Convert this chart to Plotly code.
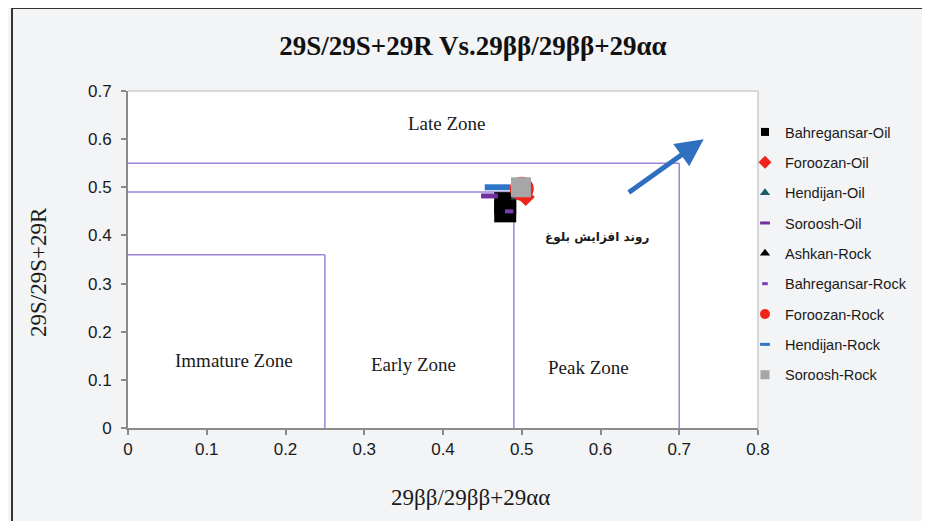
import plotly.graph_objects as go

# ---- data ----
series_names = ["Bahregansar-Oil", "Foroozan-Oil", "Hendijan-Oil", "Soroosh-Oil",
                "Ashkan-Rock", "Bahregansar-Rock", "Foroozan-Rock", "Hendijan-Rock", "Soroosh-Rock"]
bahregansar_oil_x = [0.479, 0.479]
bahregansar_oil_y = [0.467, 0.450]
foroozan_oil_x = [0.505]
foroozan_oil_y = [0.480]
hendijan_oil_x = [0.496]
hendijan_oil_y = [0.482]
soroosh_oil_x = [0.459]
soroosh_oil_y = [0.482]
ashkan_rock_x = [0.479]
ashkan_rock_y = [0.455]
bahregansar_rock_x = [0.484]
bahregansar_rock_y = [0.450]
foroozan_rock_x = [0.500]
foroozan_rock_y = [0.497]
hendijan_rock_x = [0.469]
hendijan_rock_y = [0.500]
soroosh_rock_x = [0.499]
soroosh_rock_y = [0.500]

# zone boundaries
zone_x = [0.25, 0.49, 0.70]
zone_y = [0.36, 0.49, 0.55]
zone_labels = ["Immature Zone", "Early Zone", "Peak Zone", "Late Zone"]
zone_label_x = [0.134, 0.362, 0.585, 0.405]
zone_label_y = [0.141, 0.131, 0.126, 0.632]

x_ticks = [0, 0.1, 0.2, 0.3, 0.4, 0.5, 0.6, 0.7, 0.8]
y_ticks = [0, 0.1, 0.2, 0.3, 0.4, 0.5, 0.6, 0.7]

arrow_tail = (0.634, 0.487)
arrow_head = (0.731, 0.600)
trend_label = "روند افزایش بلوغ"
trend_pos = (0.595, 0.395)

series_x = [bahregansar_oil_x, foroozan_oil_x, hendijan_oil_x, soroosh_oil_x, ashkan_rock_x,
            bahregansar_rock_x, foroozan_rock_x, hendijan_rock_x, soroosh_rock_x]
series_y = [bahregansar_oil_y, foroozan_oil_y, hendijan_oil_y, soroosh_oil_y, ashkan_rock_y,
            bahregansar_rock_y, foroozan_rock_y, hendijan_rock_y, soroosh_rock_y]

# ---- styles ----
styles = [
    dict(symbol="square", size=22, color="#000000", lsize=8),
    dict(symbol="diamond", size=14, color="#f2231b", lsize=10),
    dict(symbol="triangle-up", size=14, color="#1f5a68", lsize=9),
    dict(symbol="line-ew", size=12, color="#7030a0", lw=5, lsize=7, llw=3),
    dict(symbol="triangle-up", size=14, color="#000000", lsize=9),
    dict(symbol="line-ew", size=6, color="#7a3db0", lw=4, lsize=4, llw=3),
    dict(symbol="circle", size=24, color="#f2231b", lsize=10),
    dict(symbol="line-ew", size=18, color="#2e75c9", lw=6, lsize=7, llw=3),
    dict(symbol="square", size=20, color="#a6a6a6", lsize=9),
]

PURPLE = "#9d86d8"
OFF = 8  # page body margin
W, H = 930 - OFF, 521 - OFF
L, R, T, B = 128 - OFF, 930 - 758, 91 - OFF, 521 - 428
PW, PH = W - L - R, H - T - B

def px(x):  # target page pixel -> paper
    return (x - 128) / PW

def py(y):
    return (428 - y) / PH

fig = go.Figure()
for i, name in enumerate(series_names):
    st = styles[i]
    marker = dict(symbol=st["symbol"], size=st["size"], color=st["color"])
    if st["symbol"].startswith("line"):
        marker["line"] = dict(color=st["color"], width=st["lw"])
    else:
        marker["line"] = dict(width=0)
    fig.add_trace(go.Scatter(x=series_x[i], y=series_y[i], mode="markers", name=name,
                             marker=marker, showlegend=False, cliponaxis=False))
# legend entries (small legend symbols as in the original)
for i, name in enumerate(series_names):
    st = styles[i]
    marker = dict(symbol=st["symbol"], size=st["lsize"], color=st["color"])
    if st["symbol"].startswith("line"):
        marker["line"] = dict(color=st["color"], width=st["llw"])
    else:
        marker["line"] = dict(width=0)
    fig.add_trace(go.Scatter(x=[None], y=[None], mode="markers", name=name,
                             marker=marker, legendgroup=name, showlegend=True))

shapes = []
for zx, zy in zip(zone_x, zone_y):
    shapes.append(dict(type="line", xref="x", yref="y", x0=zx, x1=zx, y0=0, y1=zy,
                       line=dict(color=PURPLE, width=1.5), layer="below"))
    shapes.append(dict(type="line", xref="x", yref="y", x0=0, x1=zx, y0=zy, y1=zy,
                       line=dict(color=PURPLE, width=1.5), layer="below"))
shapes.append(dict(type="line", xref="paper", yref="paper", x0=0, x1=1, y0=1, y1=1,
                   line=dict(color="#cccccc", width=1.5)))
shapes.append(dict(type="line", xref="paper", yref="paper", x0=1, x1=1, y0=0, y1=1,
                   line=dict(color="#cccccc", width=1.5)))
shapes.append(dict(type="rect", xref="paper", yref="paper", x0=px(926), x1=px(945), y0=py(540), y1=py(-20),
                   fillcolor="white", line=dict(width=0)))
shapes.append(dict(type="rect", xref="paper", yref="paper", x0=px(12), x1=px(925), y0=py(540), y1=py(8),
                   line=dict(color="#333333", width=2)))

annotations = []
for lab, lx, ly in zip(zone_labels, zone_label_x, zone_label_y):
    annotations.append(dict(x=lx, y=ly, xref="x", yref="y", text=lab, showarrow=False,
                            font=dict(family="Liberation Serif", size=19, color="#1a1a1a")))
annotations.append(dict(x=trend_pos[0], y=trend_pos[1], xref="x", yref="y", text="<b>" + trend_label + "</b>",
                        showarrow=False, font=dict(family="DejaVu Sans", size=12, color="#1a1a1a")))
annotations.append(dict(x=arrow_head[0], y=arrow_head[1], ax=arrow_tail[0], ay=arrow_tail[1],
                        xref="x", yref="y", axref="x", ayref="y", text="", showarrow=True,
                        arrowhead=2, arrowsize=1.1, arrowwidth=5, arrowcolor="#2f6fbf"))
annotations.append(dict(x=px(470), y=py(497), xref="paper", yref="paper", text="29ββ/29ββ+29αα",
                        xanchor="center", yanchor="middle",
                        showarrow=False, font=dict(family="Liberation Serif", size=23, color="#1a1a1a")))
annotations.append(dict(x=px(38), y=py(272), xref="paper", yref="paper", text="29S/29S+29R",
                        textangle=-90, showarrow=False, xanchor="center", yanchor="middle",
                        font=dict(family="Liberation Serif", size=23, color="#1a1a1a")))

fig.update_layout(
    width=W, height=H,
    margin=dict(l=L, r=R, t=T, b=B, pad=0),
    paper_bgcolor="#f3f4f6", plot_bgcolor="white",
    title=dict(text="<b>29S/29S+29R Vs.29ββ/29ββ+29αα</b>", x=(473 - OFF) / W, xref="container",
               y=1 - (46 - OFF) / H, yref="container", xanchor="center", yanchor="middle",
               font=dict(family="Liberation Serif", size=27, color="#111111")),
    xaxis=dict(range=[0, 0.8], tickvals=x_ticks, ticktext=[f"{v:g}" for v in x_ticks],
               showgrid=False, zeroline=False, showline=True, linecolor="#8a8a8a", linewidth=2,
               ticks="outside", ticklen=5, tickcolor="#8a8a8a", tickwidth=1.5,
               tickfont=dict(family="Liberation Sans", size=17, color="#1a1a1a")),
    yaxis=dict(range=[0, 0.7], tickvals=y_ticks, ticktext=[f"{v:g}" for v in y_ticks],
               showgrid=False, zeroline=False, showline=True, linecolor="#8a8a8a", linewidth=2,
               ticks="outside", ticklen=5, tickcolor="#8a8a8a", tickwidth=1.5, ticklabelstandoff=6,
               tickfont=dict(family="Liberation Sans", size=17, color="#1a1a1a")),
    legend=dict(x=px(745), y=py(116), xanchor="left", yanchor="top", bgcolor="rgba(0,0,0,0)",
                itemsizing="trace", tracegroupgap=8.5,
                font=dict(family="Liberation Sans", size=14.5, color="#1a1a1a")),
    shapes=shapes, annotations=annotations, showlegend=True,
)

fig.write_html("out.html")
